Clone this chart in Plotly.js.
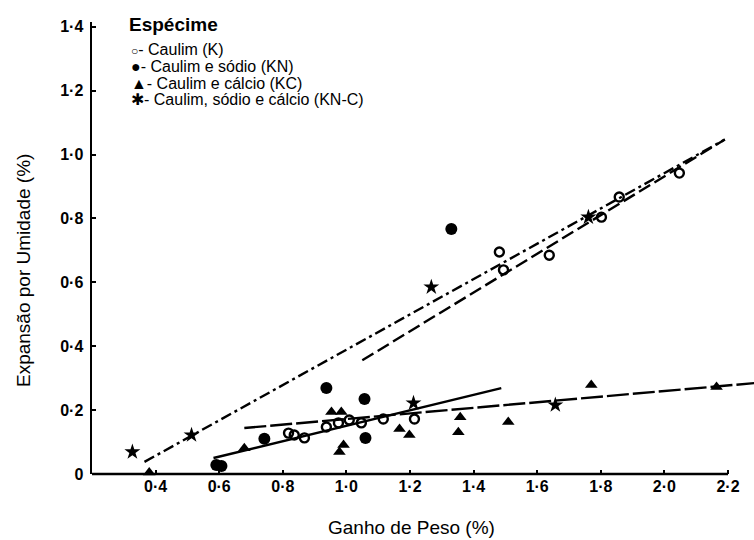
<!DOCTYPE html>
<html><head><meta charset="utf-8">
<script src="https://cdn.plot.ly/plotly-3.0.1.min.js"></script>
<style>body{margin:0;background:#fff}#chart{width:754px;height:540px}</style>
</head><body><div id="chart"></div>
<script>
// ---- data ----
const xTickVals = [0.4, 0.6, 0.8, 1.0, 1.2, 1.4, 1.6, 1.8, 2.0, 2.2];
const xTickText = ['0·4', '0·6', '0·8', '1·0', '1·2', '1·4', '1·6', '1·8', '2·0', '2·2'];
const yTickVals = [0, 0.2, 0.4, 0.6, 0.8, 1.0, 1.2, 1.4];
const yTickText = ['0', '0·2', '0·4', '0·6', '0·8', '1·0', '1·2', '1·4'];

const legendTitle = 'Espécime';
const seriesNames = ['Caulim (K)', 'Caulim e sódio (KN)', 'Caulim e cálcio (KC)', 'Caulim, sódio e cálcio (KN-C)'];
const xTitle = 'Ganho de Peso (%)';
const yTitle = 'Expansão por Umidade (%)';

// Caulim (K) - open circles
const kX = [0.818, 0.836, 0.868, 0.937, 0.975, 1.009, 1.047, 1.116, 1.214, 1.481, 1.494, 1.638, 1.802, 1.858, 2.047];
const kY = [0.128, 0.122, 0.113, 0.147, 0.160, 0.169, 0.160, 0.172, 0.172, 0.695, 0.639, 0.685, 0.804, 0.867, 0.942];
// Caulim e sódio (KN) - filled circles
const knX = [0.591, 0.607, 0.742, 0.937, 1.057, 1.060, 1.330];
const knY = [0.028, 0.025, 0.110, 0.269, 0.235, 0.113, 0.767];
// Caulim e cálcio (KC) - triangles
const kcX = [0.380, 0.679, 0.953, 0.984, 0.991, 0.978, 1.167, 1.198, 1.352, 1.358, 1.509, 1.770, 2.164];
const kcY = [0.005, 0.081, 0.194, 0.194, 0.091, 0.069, 0.141, 0.122, 0.131, 0.178, 0.163, 0.279, 0.272];
// Caulim, sódio e cálcio (KN-C) - stars
const kncX = [0.327, 0.513, 1.211, 1.267, 1.657, 1.761];
const kncY = [0.069, 0.122, 0.222, 0.585, 0.216, 0.804];

// fitted lines (end points)
const lineKNCx = [0.365, 2.190];
const lineKNCy = [0.038, 1.047];
const lineKx = [1.050, 2.190];
const lineKy = [0.356, 1.047];
const lineKNx = [0.582, 1.487];
const lineKNy = [0.050, 0.269];
const lineKCx = [0.679, 2.300];
const lineKCy = [0.144, 0.286];

// ---- layout helpers ----
const W = 754, H = 540;
const M = {l: 92, r: 0, t: 22, b: 66};
const pw = W - M.l - M.r, ph = H - M.t - M.b;
const px2x = p => (p - M.l) / pw;
const px2y = p => (H - M.b - p) / ph;
const FONT = 'Liberation Sans, Arial, Helvetica, sans-serif';

const mk = (x, y, symbol, size, name) => ({
  type: 'scatter', mode: 'markers', x: x, y: y, name: name, showlegend: false,
  cliponaxis: false,
  marker: {symbol: symbol, size: size, color: '#000', line: {color: '#000', width: symbol.indexOf('open') >= 0 ? 2.4 : 0}}
});
const ln = (x, y, dash) => ({
  type: 'scatter', mode: 'lines', x: x, y: y, showlegend: false, hoverinfo: 'skip',
  line: {color: '#000', width: 2.4, dash: dash}
});

const traces = [
  ln(lineKNCx, lineKNCy, '11px,4px,3px,4px'),
  ln(lineKx, lineKy, '13px,5px'),
  ln(lineKNx, lineKNy, 'solid'),
  ln(lineKCx, lineKCy, '22px,4px'),
  mk(kX, kY, 'circle-open', 9, seriesNames[0]),
  mk(knX, knY, 'circle', 12, seriesNames[1]),
  mk(kcX, kcY, 'triangle-up', 11, seriesNames[2]),
  mk(kncX, kncY, 'star', 12, seriesNames[3])
];

const legendSymbols = ['<span style="font-size:12px">○</span>-', '●-', '▲-', '✱-'];
const legendRowsPx = [49, 66, 83, 99];

const annotations = [
  {text: '<b>' + legendTitle + '</b>', xref: 'paper', yref: 'paper', x: px2x(127), y: px2y(25),
   xanchor: 'left', yanchor: 'middle', showarrow: false, font: {family: FONT, size: 19, color: '#000'}},
  {text: xTitle, xref: 'paper', yref: 'paper', x: px2x(411), y: px2y(527),
   xanchor: 'center', yanchor: 'middle', showarrow: false, font: {family: FONT, size: 19, color: '#000'}},
  {text: yTitle, xref: 'paper', yref: 'paper', x: px2x(23), y: px2y(271), textangle: -90,
   xanchor: 'center', yanchor: 'middle', showarrow: false, font: {family: FONT, size: 19, color: '#000'}}
];
seriesNames.forEach((n, i) => annotations.push({
  text: legendSymbols[i] + ' ' + n, xref: 'paper', yref: 'paper', x: px2x(129), y: px2y(legendRowsPx[i]),
  xanchor: 'left', yanchor: 'middle', showarrow: false, font: {family: FONT, size: 16, color: '#000'}
}));

const layout = {
  width: W, height: H, margin: M,
  paper_bgcolor: '#fff', plot_bgcolor: '#fff',
  showlegend: false,
  font: {family: FONT, color: '#000'},
  xaxis: {
    range: [0.2, 0.2 + pw / 318], showgrid: false, zeroline: false, showline: false,
    tickmode: 'array', tickvals: xTickVals, ticktext: xTickText,
    ticks: 'inside', ticklen: 4, tickwidth: 2, tickcolor: '#000',
    tickfont: {family: FONT, size: 16, color: '#000', weight: 'bold'}, ticklabelstandoff: 1
  },
  yaxis: {
    range: [0, 1.415], showgrid: false, zeroline: false, showline: true, linecolor: '#000', linewidth: 2.5,
    tickmode: 'array', tickvals: yTickVals, ticktext: yTickText,
    ticks: 'inside', ticklen: 4, tickwidth: 2, tickcolor: '#000',
    tickfont: {family: FONT, size: 16, color: '#000', weight: 'bold'}, ticklabelstandoff: 3
  },
  shapes: [
    {type: 'line', xref: 'x', yref: 'paper', x0: 0.2, x1: 2.2, y0: 0, y1: 0, line: {color: '#000', width: 2.5}}
  ],
  annotations: annotations
};

Plotly.newPlot('chart', traces, layout, {displayModeBar: false, staticPlot: true});
</script></body></html>
